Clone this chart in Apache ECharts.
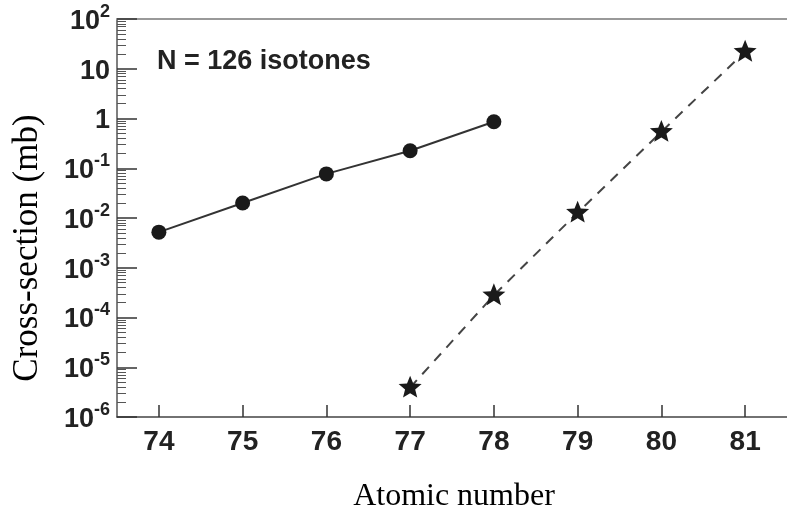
<!DOCTYPE html>
<html>
<head>
<meta charset="utf-8">
<script src="https://cdn.jsdelivr.net/npm/echarts@6/dist/echarts.min.js"></script>
<style>html,body{margin:0;padding:0;background:#fff;}#c{width:787px;height:515px;}</style>
</head>
<body>
<div id="c"></div>
<script>
// Data
const atomicNumbersCircles = [74, 75, 76, 77, 78];
const crossSectionCircles = [5.2e-3, 0.020, 0.077, 0.225, 0.86];
const atomicNumbersStars = [77, 78, 79, 80, 81];
const crossSectionStars = [3.9e-6, 2.8e-4, 0.0128, 0.54, 22];
const xTickLabels = ['74', '75', '76', '77', '78', '79', '80', '81'];
const yTickExponents = [-6, -5, -4, -3, -2, -1, 0, 1, 2];
const annotation = 'N = 126 isotones';
const xTitle = 'Atomic number';
const yTitle = 'Cross-section (mb)';

const yMin = Math.pow(10, yTickExponents[0]);
const yMax = Math.pow(10, yTickExponents[yTickExponents.length - 1]);
const yMinor = [];
for (let i = 0; i < yTickExponents.length - 1; i++) {
  for (let m = 2; m <= 9; m++) yMinor.push(m * Math.pow(10, yTickExponents[i]));
}
function yLabel(v) {
  const e = Math.round(Math.log10(v));
  if (e === 0) return '{b|1}';
  if (e === 1) return '{b|10}';
  return '{b|10}{s|' + e + '}';
}
const starPath = 'path://M50 0 L62.9 32.3 L97.55 34.55 L70.9 56.9 L79.39 90.45 L50 72.5 L20.61 90.45 L29.1 56.9 L2.45 34.55 L37.1 32.3 Z';
const labelFont = '"Liberation Sans", Arial, sans-serif';
const serif = '"Liberation Serif", "Times New Roman", serif';
const xMin = Number(xTickLabels[0]) - 0.5;
const xMax = Number(xTickLabels[xTickLabels.length - 1]) + 0.5;

const chart = echarts.init(document.getElementById('c'));
chart.setOption({
  animation: false,
  backgroundColor: '#fff',
  grid: {left: 117, top: 19, width: 679, height: 398},
  xAxis: [{
    type: 'category', data: xTickLabels, boundaryGap: true, position: 'bottom',
    axisLine: {show: true, onZero: false, lineStyle: {color: '#444', width: 1.5}},
    axisTick: {show: true, inside: true, length: 12, alignWithLabel: true, lineStyle: {color: '#333', width: 1.5}},
    axisLabel: {margin: 11, color: '#222', fontSize: 28, fontWeight: 'bold', fontFamily: labelFont},
    splitLine: {show: false}
  }, {
    type: 'value', min: xMin, max: xMax, position: 'top',
    axisLine: {show: true, onZero: false, lineStyle: {color: '#999', width: 2}},
    axisTick: {show: false}, axisLabel: {show: false}, splitLine: {show: false}
  }],
  yAxis: [{
    type: 'log', logBase: 10, min: yMin, max: yMax, splitNumber: 8, position: 'left',
    axisLine: {show: true, lineStyle: {color: '#555', width: 1.5}},
    axisTick: {show: true, inside: true, length: 20, lineStyle: {color: '#333', width: 1.5}},
    axisLabel: {
      margin: 7, formatter: yLabel,
      rich: {
        b: {fontSize: 27, fontWeight: 'bold', fontFamily: labelFont, color: '#222', lineHeight: 32, verticalAlign: 'bottom'},
        s: {fontSize: 18, fontWeight: 'bold', fontFamily: labelFont, color: '#222', lineHeight: 18, verticalAlign: 'top'}
      }
    },
    splitLine: {show: false}
  }, {
    type: 'log', logBase: 10, min: yMin, max: yMax, position: 'left',
    axisLine: {show: false},
    axisTick: {show: true, inside: true, length: 9, customValues: yMinor, lineStyle: {color: '#555', width: 1}},
    axisLabel: {show: false}, splitLine: {show: false}
  }],
  graphic: [
    {type: 'text', left: 157, top: 48, style: {text: annotation, font: 'bold 27px ' + labelFont, fill: '#222'}},
    {type: 'text', x: 454, y: 497, style: {text: xTitle, font: '32px ' + serif, fill: '#000', align: 'center', verticalAlign: 'middle'}},
    {type: 'text', x: 28, y: 248, rotation: Math.PI / 2, style: {text: yTitle, font: '35px ' + serif, fill: '#000', align: 'center', verticalAlign: 'middle'}}
  ],
  series: [{
    type: 'line', xAxisIndex: 1, yAxisIndex: 0,
    data: atomicNumbersCircles.map((x, i) => [x, crossSectionCircles[i]]),
    symbol: 'circle', symbolSize: 15,
    itemStyle: {color: '#1a1a1a'},
    lineStyle: {color: '#333', width: 2}
  }, {
    type: 'line', xAxisIndex: 1, yAxisIndex: 0,
    data: atomicNumbersStars.map((x, i) => [x, crossSectionStars[i]]),
    symbol: starPath, symbolSize: 23, symbolKeepAspect: true, symbolOffset: [0, -1],
    itemStyle: {color: '#1a1a1a'},
    lineStyle: {color: '#444', width: 2, type: [10, 8]}
  }]
});
</script>
</body>
</html>
